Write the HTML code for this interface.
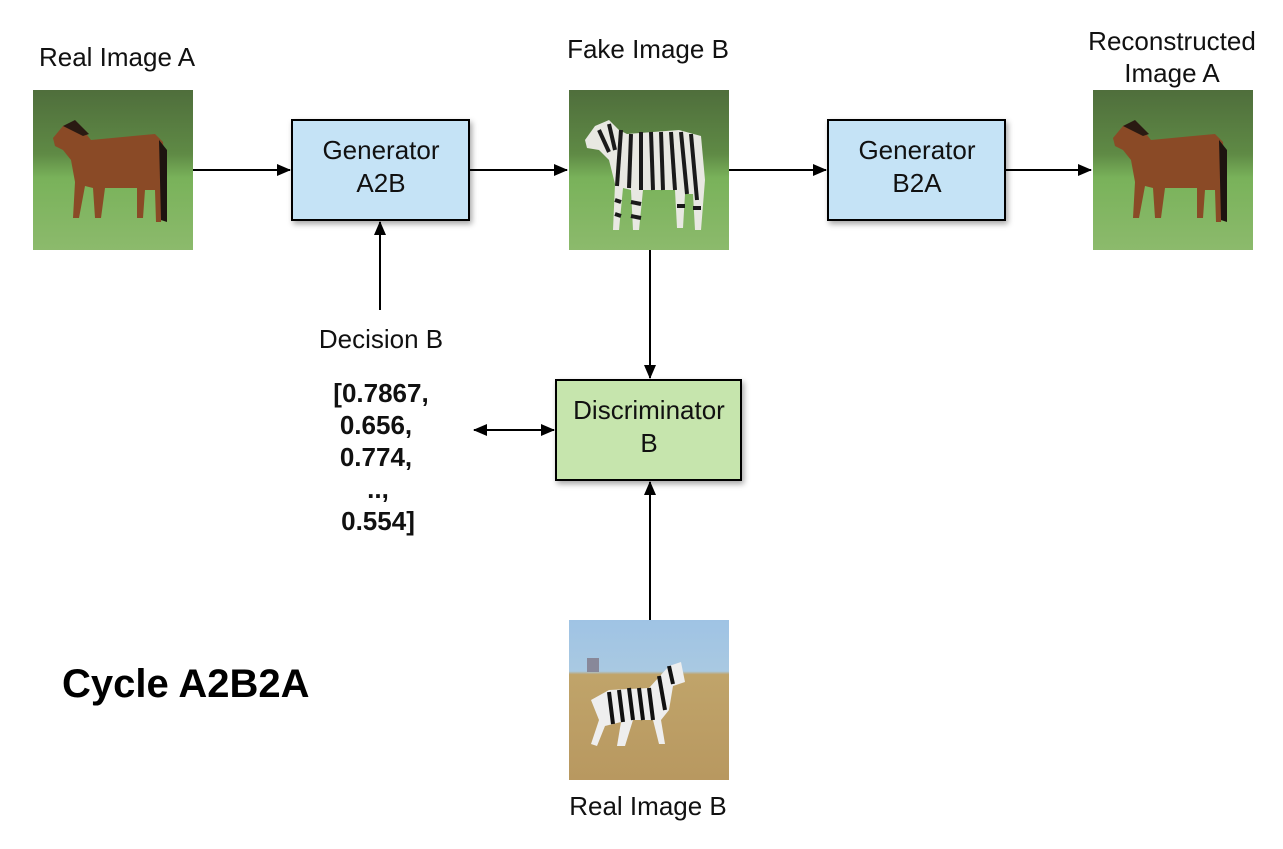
<!DOCTYPE html>
<html><head><meta charset="utf-8"><style>
html,body{margin:0;padding:0;background:#fff}
svg{display:block}
text{font-family:"Liberation Sans",sans-serif}
</style></head><body>
<svg width="1283" height="849" viewBox="0 0 1283 849" xmlns="http://www.w3.org/2000/svg">
<defs>
<marker id="ah" markerWidth="14" markerHeight="12" refX="13" refY="6" orient="auto" markerUnits="userSpaceOnUse">
<path d="M0,0 L14,6 L0,12 z" fill="#000"/></marker>
<marker id="ahs" markerWidth="14" markerHeight="12" refX="1" refY="6" orient="auto" markerUnits="userSpaceOnUse">
<path d="M14,0 L0,6 L14,12 z" fill="#000"/></marker>
<linearGradient id="horseBg" x1="0" y1="0" x2="0" y2="1">
<stop offset="0" stop-color="#4f6e3c"/><stop offset="0.4" stop-color="#5f8a45"/><stop offset="0.55" stop-color="#79b25a"/><stop offset="1" stop-color="#8cba6c"/></linearGradient>
<linearGradient id="realB" x1="0" y1="0" x2="0" y2="1">
<stop offset="0" stop-color="#9fc3e4"/><stop offset="0.32" stop-color="#a9c9e2"/><stop offset="0.34" stop-color="#c0a46a"/><stop offset="1" stop-color="#b89860"/></linearGradient>
<filter id="sh" x="-10%" y="-10%" width="130%" height="130%"><feDropShadow dx="2" dy="3" stdDeviation="3" flood-color="#000" flood-opacity="0.35"/></filter>
<g id="horse">
<path d="M20,48 L30,36 L42,32 L50,40 L58,50 L100,46 L122,44 L130,52 L132,90 L128,132 L123,132 L122,100 L112,100 L110,128 L104,128 L104,98 L72,98 L68,128 L62,128 L60,98 L52,96 L46,128 L40,128 L42,92 L38,70 L30,60 L22,56 z" fill="#8a4a26"/>
<path d="M30,36 L42,30 L56,44 L50,46 z" fill="#2a1a12"/>
<path d="M126,50 L134,60 L134,132 L128,130 z" fill="#1e1410"/>
</g>
</defs>

<rect x="33" y="90" width="160" height="160" fill="url(#horseBg)"/>
<use href="#horse" x="33" y="90"/>
<rect x="569" y="90" width="160" height="160" fill="url(#horseBg)"/>
<g transform="translate(569,90)">
<path d="M16,50 L26,36 L40,30 L50,40 L58,44 L110,40 L132,46 L136,90 L132,140 L126,140 L124,104 L116,104 L114,138 L108,138 L106,100 L74,100 L70,140 L64,140 L62,100 L54,98 L50,140 L44,140 L46,94 L40,70 L30,60 L18,58 z" fill="#e8e8e2"/>
<g stroke="#1a1a1a" stroke-width="4">
<line x1="52" y1="40" x2="48" y2="96"/><line x1="62" y1="44" x2="60" y2="98"/><line x1="72" y1="42" x2="72" y2="100"/><line x1="82" y1="42" x2="84" y2="100"/><line x1="92" y1="42" x2="94" y2="100"/><line x1="102" y1="42" x2="106" y2="100"/><line x1="112" y1="42" x2="118" y2="104"/><line x1="122" y1="44" x2="128" y2="110"/>
<line x1="30" y1="40" x2="40" y2="62"/><line x1="40" y1="34" x2="46" y2="60"/>
<line x1="46" y1="110" x2="52" y2="112"/><line x1="46" y1="124" x2="52" y2="126"/><line x1="62" y1="112" x2="72" y2="114"/><line x1="62" y1="126" x2="72" y2="128"/><line x1="108" y1="116" x2="116" y2="116"/><line x1="124" y1="118" x2="132" y2="118"/>
</g></g>
<rect x="1093" y="90" width="160" height="160" fill="url(#horseBg)"/>
<use href="#horse" x="1093" y="90"/>
<rect x="569" y="620" width="160" height="160" fill="url(#realB)"/>
<g transform="translate(569,620)">
<path d="M22,80 L40,70 L80,68 L100,46 L112,42 L116,62 L104,66 L100,90 L92,100 L96,124 L90,124 L84,100 L64,100 L56,126 L48,126 L52,102 L36,106 L28,126 L22,124 L30,100 z" fill="#eee"/>
<g stroke="#111" stroke-width="4">
<line x1="40" y1="72" x2="44" y2="104"/><line x1="50" y1="70" x2="54" y2="102"/><line x1="60" y1="68" x2="64" y2="100"/><line x1="70" y1="68" x2="74" y2="100"/><line x1="80" y1="68" x2="84" y2="100"/><line x1="90" y1="56" x2="96" y2="90"/><line x1="100" y1="46" x2="104" y2="64"/>
</g>
<rect x="18" y="38" width="12" height="14" fill="#889"/>
</g>

<rect x="292" y="120" width="177" height="100" fill="#c5e3f6" stroke="#000" stroke-width="2" filter="url(#sh)"/>
<rect x="828" y="120" width="177" height="100" fill="#c5e3f6" stroke="#000" stroke-width="2" filter="url(#sh)"/>
<rect x="556" y="380" width="185" height="100" fill="#c6e5ad" stroke="#000" stroke-width="2" filter="url(#sh)"/>
<g font-size="26" text-anchor="middle" fill="#111">
<text x="381" y="159">Generator</text><text x="381" y="192">A2B</text>
<text x="917" y="159">Generator</text><text x="917" y="192">B2A</text>
<text x="649" y="419">Discriminator</text><text x="649" y="452">B</text>
</g>

<g stroke="#000" stroke-width="2" fill="none">
<line x1="193" y1="170" x2="290" y2="170" marker-end="url(#ah)"/>
<line x1="469" y1="170" x2="567" y2="170" marker-end="url(#ah)"/>
<line x1="729" y1="170" x2="826" y2="170" marker-end="url(#ah)"/>
<line x1="1005" y1="170" x2="1091" y2="170" marker-end="url(#ah)"/>
<line x1="380" y1="310" x2="380" y2="222" marker-end="url(#ah)"/>
<line x1="650" y1="250" x2="650" y2="378" marker-end="url(#ah)"/>
<line x1="650" y1="620" x2="650" y2="482" marker-end="url(#ah)"/>
<line x1="474" y1="430" x2="554" y2="430" marker-start="url(#ahs)" marker-end="url(#ah)"/>
</g>

<g font-size="26" text-anchor="middle" fill="#111">
<text x="117" y="66">Real Image A</text>
<text x="648" y="58">Fake Image B</text>
<text x="1172" y="50">Reconstructed</text>
<text x="1172" y="82">Image A</text>
<text x="381" y="348">Decision B</text>
<text x="648" y="815">Real Image B</text>
</g>
<g font-size="26" font-weight="bold" text-anchor="middle" fill="#111">
<text x="381" y="402">[0.7867,</text>
<text x="376" y="434">0.656,</text>
<text x="376" y="466">0.774,</text>
<text x="378" y="498">..,</text>
<text x="378" y="530">0.554]</text>
</g>
<text x="62" y="697" font-size="40" font-weight="bold" fill="#000">Cycle A2B2A</text>
</svg>
</body></html>
